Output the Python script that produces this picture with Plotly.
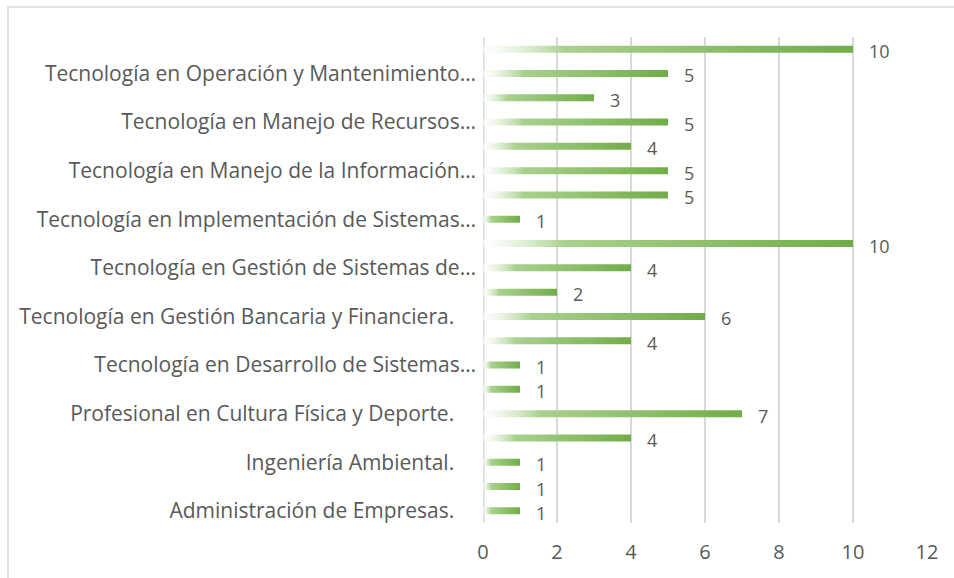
import plotly.graph_objects as go

PAD = "\u00a0\u00a0\u00a0\u00a0"
# Categories from bottom to top ("" = label not shown in the reference)
labels = [
    "Administración de Empresas." + PAD,
    "",
    "Ingeniería Ambiental." + PAD,
    "",
    "Profesional en Cultura Física y Deporte." + PAD,
    "",
    "Tecnología en Desarrollo de Sistemas…",
    "",
    "Tecnología en Gestión Bancaria y Financiera." + PAD,
    "",
    "Tecnología en Gestión de Sistemas de…",
    "",
    "Tecnología en Implementación de Sistemas…",
    "",
    "Tecnología en Manejo de la Información…",
    "",
    "Tecnología en Manejo de Recursos…",
    "",
    "Tecnología en Operación y Mantenimiento…",
    "",
]
values = [1, 1, 1, 4, 7, 1, 1, 4, 6, 2, 4, 10, 1, 5, 5, 4, 5, 3, 5, 10]
x_ticks = [0, 2, 4, 6, 8, 10, 12]

TEXT = "#595959"
GRID = "#d9d9d9"
FONT = "Open Sans"
FS = 21
half = 0.145

fig = go.Figure()
for i, v in enumerate(values):
    fig.add_trace(go.Scatter(
        x=[0, v, v, 0, 0],
        y=[i - half, i - half, i + half, i + half, i - half],
        mode="lines",
        line=dict(width=0),
        fill="toself",
        fillgradient=dict(
            type="horizontal",
            colorscale=[[0, "rgba(255,255,255,0.5)"], [0.22, "#a9d18e"], [1, "#70ad47"]],
        ),
        hoverinfo="skip",
        showlegend=False,
    ))

for i, v in enumerate(values):
    fig.add_annotation(
        x=v, y=i, text=str(v), showarrow=False, xanchor="left", yanchor="middle",
        xshift=14, yshift=-2, font=dict(family=FONT, size=18, color=TEXT),
    )

fig.add_shape(type="line", xref="x", yref="paper", x0=0, x1=0, y0=0, y1=1,
              line=dict(color=GRID, width=3), layer="below")
fig.add_shape(type="rect", xref="paper", yref="paper",
              x0=(8 - 483) / 444, x1=1.2, y0=1 + 30 / 486, y1=-0.3,
              line=dict(color=GRID, width=1.5), layer="below")

fig.update_layout(
    width=954, height=578,
    margin=dict(l=483, r=27, t=37, b=55),
    paper_bgcolor="white", plot_bgcolor="white",
    font=dict(family=FONT, size=FS, color=TEXT),
    xaxis=dict(range=[0, 12], tickvals=x_ticks, showgrid=True, gridcolor=GRID, gridwidth=1.5,
               zeroline=False, showline=False, ticks="", ticklabelstandoff=15,
               tickfont=dict(family=FONT, size=FS - 1, color=TEXT), fixedrange=True),
    yaxis=dict(range=[-0.5, 19.5], tickvals=list(range(len(labels))), ticktext=labels,
               showgrid=False, zeroline=False, showline=False, ticks="",
               ticklabelstandoff=6, tickfont=dict(family=FONT, size=FS, color=TEXT), fixedrange=True),
)

fig.write_html("out.html", config={"displayModeBar": False},
               post_script="document.body.style.margin='0';")
